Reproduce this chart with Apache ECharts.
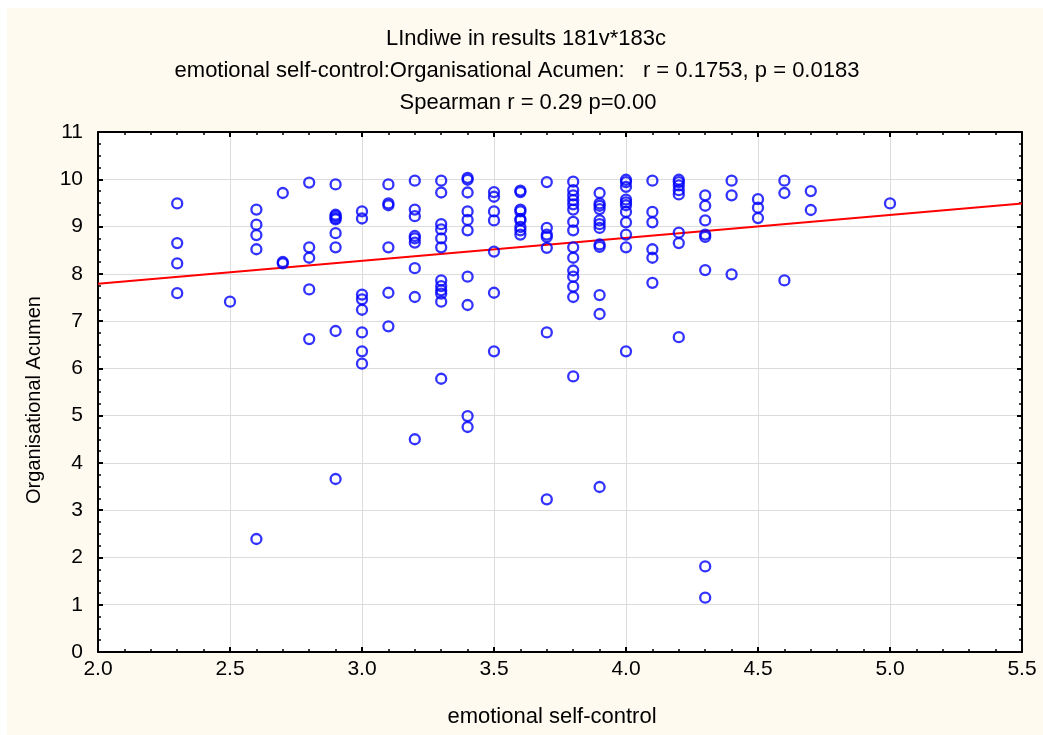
<!DOCTYPE html>
<html>
<head>
<meta charset="utf-8">
<title>emotional self-control vs Organisational Acumen</title>
<script src="https://cdn.jsdelivr.net/npm/echarts@6/dist/echarts.min.js"></script>
<style>
  html, body { margin: 0; padding: 0; background: #ffffff; }
  #scatter { width: 1043px; height: 735px; }
</style>
</head>
<body>
<div id="scatter"></div>
<script>
// emotional self-control levels (x) and the Organisational Acumen scores seen at each level
const escLevels = [2.3, 2.5, 2.6, 2.7, 2.8, 2.9, 3.0, 3.1, 3.2, 3.3, 3.4, 3.5, 3.6,
                   3.7, 3.8, 3.9, 4.0, 4.1, 4.2, 4.3, 4.4, 4.5, 4.6, 4.7, 5.0]
const acumenByLevel = [
  [9.49, 8.65, 8.22, 7.59],
  [7.41],
  [9.36, 9.04, 8.82, 8.52, 2.39],
  [9.71, 8.25, 8.22],
  [9.93, 8.56, 8.34, 7.67, 6.62],
  [9.89, 9.25, 9.22, 9.18, 9.15, 8.86, 8.56, 6.79, 3.66],
  [9.32, 9.17, 7.56, 7.46, 7.24, 6.76, 6.36, 6.10],
  [9.89, 9.49, 9.45, 8.56, 7.60, 6.89],
  [9.97, 9.36, 9.22, 8.80, 8.75, 8.66, 8.12, 7.51, 4.50],
  [9.97, 9.72, 9.05, 8.94, 8.75, 8.56, 7.86, 7.74, 7.65, 7.58, 7.41, 5.78],
  [10.03, 9.99, 9.72, 9.32, 9.14, 8.92, 7.94, 7.34, 4.99, 4.76],
  [9.73, 9.63, 9.32, 9.13, 8.47, 7.60, 6.36],
  [9.76, 9.73, 9.36, 9.32, 9.16, 9.13, 8.99, 8.92, 8.83],
  [9.94, 8.97, 8.83, 8.78, 8.55, 6.76, 3.23],
  [9.95, 9.77, 9.66, 9.56, 9.47, 9.36, 9.10, 8.92, 8.56, 8.34, 8.07, 7.94, 7.73, 7.51, 5.83],
  [9.71, 9.49, 9.44, 9.37, 9.13, 9.05, 8.97, 8.62, 8.57, 7.55, 7.15, 3.49],
  [9.99, 9.94, 9.84, 9.57, 9.51, 9.45, 9.31, 9.09, 8.83, 8.56, 6.36],
  [9.97, 9.31, 9.09, 8.52, 8.34, 7.81],
  [9.99, 9.94, 9.87, 9.77, 9.68, 8.87, 8.65, 6.66],
  [9.66, 9.44, 9.13, 8.83, 8.78, 8.08, 1.81, 1.15],
  [9.97, 9.66, 7.99],
  [9.58, 9.40, 9.18],
  [9.97, 9.71, 7.86],
  [9.75, 9.35],
  [9.49]
]
// red regression line (value at x = 2.0 and x = 5.5)
const fitEnds = [7.79, 9.49]
const xRange = [2.0, 5.5]
const yRange = [0, 11]
const titleLines = [
  'LIndiwe in results 181v*183c',
  'emotional self-control:Organisational Acumen:   r = 0.1753, p = 0.0183',
  'Spearman r = 0.29 p=0.00'
]
const titleCenters = [521, 512, 523]

// flatten into [x, y] pairs
const points = []
escLevels.forEach(function (x, i) {
  acumenByLevel[i].forEach(function (y) { points.push([x, y]) })
})
const fitData = xRange.map(function (x, i) { return [x, fitEnds[i]] })

const font = 'Arial, "Liberation Sans", sans-serif'
const chart = echarts.init(document.getElementById('scatter'))

function frameAxis (extra) {
  return Object.assign({
    type: 'value',
    axisLine: { show: true, onZero: false, lineStyle: { color: '#000', width: 2 } },
    axisTick: { show: true, inside: true, length: 5, lineStyle: { color: '#000', width: 2 } },
    axisLabel: { show: false },
    splitLine: { show: false }
  }, extra)
}

const option = {
  animation: false,
  backgroundColor: '#ffffff',
  graphic: [{
    type: 'rect', z: -10, silent: true,
    shape: { x: 7, y: 8, width: 1036, height: 727 },
    style: { fill: '#fffaf0' }
  }],
  title: titleLines.map(function (t, i) {
    return {
      text: t,
      left: titleCenters[i],
      top: 23 + i * 32,
      textAlign: 'center',
      textStyle: { fontFamily: font, fontSize: 22, fontWeight: 'normal', color: '#000' }
    }
  }),
  grid: {
    left: 98, right: 21, top: 132, bottom: 83,
    show: true, backgroundColor: '#ffffff', borderWidth: 0
  },
  xAxis: [
    frameAxis({
      min: xRange[0], max: xRange[1], interval: 0.5,
      minorTick: { show: true, splitNumber: 5, length: 3, lineStyle: { color: '#000', width: 1.5 } },
      axisLabel: {
        show: true, margin: 7, color: '#000', fontFamily: font, fontSize: 21,
        formatter: function (v) { return v.toFixed(1) }
      },
      splitLine: { show: true, lineStyle: { color: '#dcdcdc', width: 1 } },
      name: 'emotional self-control',
      nameLocation: 'middle',
      nameGap: 54,
      nameTextStyle: { fontFamily: font, fontSize: 22, color: '#000', padding: [0, 16, 0, 0] }
    }),
    frameAxis({
      position: 'top', min: xRange[0], max: xRange[1], interval: 0.5,
      minorTick: { show: true, splitNumber: 5, length: 3, lineStyle: { color: '#000', width: 1.5 } }
    })
  ],
  yAxis: [
    frameAxis({
      min: yRange[0], max: yRange[1], interval: 1,
      minorTick: { show: true, splitNumber: 4, length: 3, lineStyle: { color: '#000', width: 1.5 } },
      axisLabel: { show: true, margin: 15, color: '#000', fontFamily: font, fontSize: 21 },
      splitLine: { show: true, lineStyle: { color: '#dcdcdc', width: 1 } },
      name: 'Organisational Acumen',
      nameLocation: 'middle',
      nameGap: 54,
      nameTextStyle: { fontFamily: font, fontSize: 20, color: '#000', padding: [0, 16, 0, 0] }
    }),
    frameAxis({
      position: 'right', min: yRange[0], max: yRange[1], interval: 1,
      minorTick: { show: true, splitNumber: 4, length: 3, lineStyle: { color: '#000', width: 1.5 } }
    })
  ],
  series: [
    {
      name: 'fit',
      type: 'line',
      data: fitData,
      symbol: 'none',
      lineStyle: { color: '#ff0000', width: 2 },
      z: 2
    },
    {
      name: 'cases',
      type: 'scatter',
      data: points,
      symbol: 'circle',
      symbolSize: 10,
      itemStyle: { color: 'rgba(0,0,0,0)', borderColor: '#0000ff', borderWidth: 2.3 },
      z: 3
    }
  ]
}
chart.setOption(option)
</script>
</body>
</html>
